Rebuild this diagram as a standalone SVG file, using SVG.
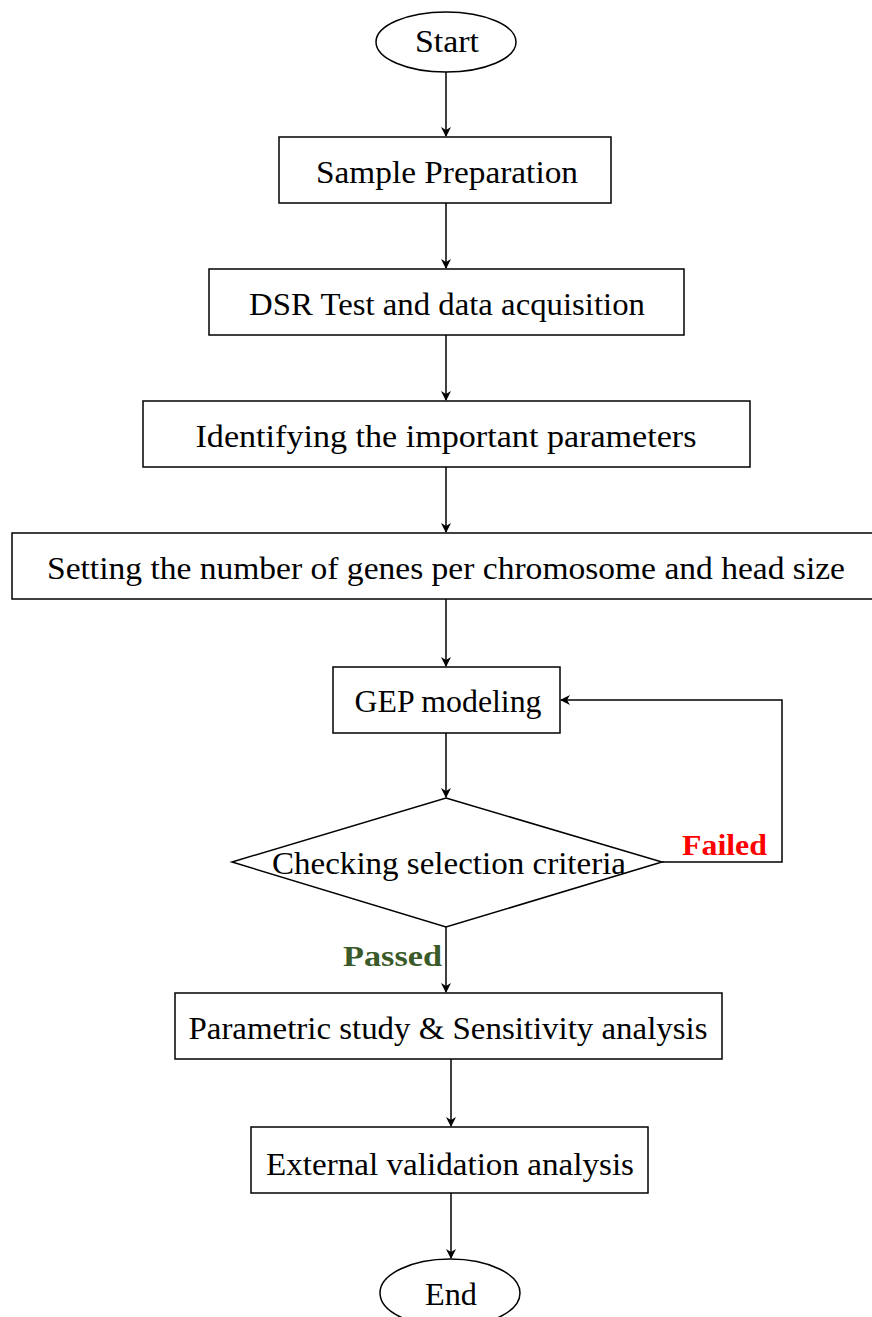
<svg xmlns="http://www.w3.org/2000/svg" width="872" height="1317" viewBox="0 0 872 1317">
<defs>
<marker id="ah" markerWidth="10" markerHeight="10" refX="9" refY="5" orient="auto" markerUnits="userSpaceOnUse">
<path d="M0,0 L10,5 L0,10 L3,5 z" fill="#000"/>
</marker>
<style>
.n{fill:#fff;stroke:#000;stroke-width:1.5}
.t{font-family:"Liberation Serif",serif;font-size:31px;fill:#000;text-anchor:middle}
.c{fill:none;stroke:#000;stroke-width:1.5}
.lb{font-family:"Liberation Serif",serif;font-size:30px;font-weight:bold}
</style>
</defs>
<rect width="872" height="1317" fill="#fff"/>
<g id="connectors">
<line class="c" x1="446" y1="72" x2="446" y2="136" marker-end="url(#ah)"/>
<line class="c" x1="446" y1="203" x2="446" y2="268" marker-end="url(#ah)"/>
<line class="c" x1="446" y1="335" x2="446" y2="400" marker-end="url(#ah)"/>
<line class="c" x1="446" y1="467" x2="446" y2="532" marker-end="url(#ah)"/>
<line class="c" x1="446" y1="599" x2="446" y2="666" marker-end="url(#ah)"/>
<line class="c" x1="446" y1="733" x2="446" y2="797" marker-end="url(#ah)"/>
<polyline class="c" points="662,862 782,862 782,700 561,700" marker-end="url(#ah)"/>
<line class="c" x1="446" y1="927" x2="446" y2="992" marker-end="url(#ah)"/>
<line class="c" x1="451" y1="1059" x2="451" y2="1126" marker-end="url(#ah)"/>
<line class="c" x1="451" y1="1193" x2="451" y2="1258" marker-end="url(#ah)"/>
<text class="lb" x="682" y="855" fill="#ff0000" textLength="85" lengthAdjust="spacingAndGlyphs">Failed</text>
<text class="lb" x="343" y="966" fill="#3b5a2a" textLength="99" lengthAdjust="spacingAndGlyphs">Passed</text>
</g>
<g id="start"><ellipse class="n" cx="446" cy="42" rx="70" ry="30"/><text class="t" x="447" y="52" textLength="64" lengthAdjust="spacingAndGlyphs">Start</text></g>
<g id="sample"><rect class="n" x="279" y="137" width="332" height="66"/><text class="t" x="447" y="183" textLength="262" lengthAdjust="spacingAndGlyphs">Sample Preparation</text></g>
<g id="dsr"><rect class="n" x="209" y="269" width="475" height="66"/><text class="t" x="447" y="315" textLength="396" lengthAdjust="spacingAndGlyphs">DSR Test and data acquisition</text></g>
<g id="identify"><rect class="n" x="143" y="401" width="607" height="66"/><text class="t" x="446" y="447" textLength="501" lengthAdjust="spacingAndGlyphs">Identifying the important parameters</text></g>
<g id="setting"><rect class="n" x="12" y="533" width="862" height="66"/><text class="t" x="446" y="579" textLength="798" lengthAdjust="spacingAndGlyphs">Setting the number of genes per chromosome and head size</text></g>
<g id="gep"><rect class="n" x="333" y="667" width="227" height="66"/><text class="t" x="448" y="712" textLength="187" lengthAdjust="spacingAndGlyphs">GEP modeling</text></g>
<g id="check"><polygon class="n" points="446,798 662,862 446,927 232,862"/><text class="t" x="449" y="874" textLength="354" lengthAdjust="spacingAndGlyphs">Checking selection criteria</text></g>
<g id="parametric"><rect class="n" x="175" y="993" width="547" height="66"/><text class="t" x="448" y="1039" textLength="519" lengthAdjust="spacingAndGlyphs">Parametric study &amp; Sensitivity analysis</text></g>
<g id="external"><rect class="n" x="251" y="1127" width="397" height="66"/><text class="t" x="450" y="1175" textLength="368" lengthAdjust="spacingAndGlyphs">External validation analysis</text></g>
<g id="end"><ellipse class="n" cx="450" cy="1293" rx="70" ry="34"/><text class="t" x="451" y="1305" textLength="52" lengthAdjust="spacingAndGlyphs">End</text></g>
</svg>
